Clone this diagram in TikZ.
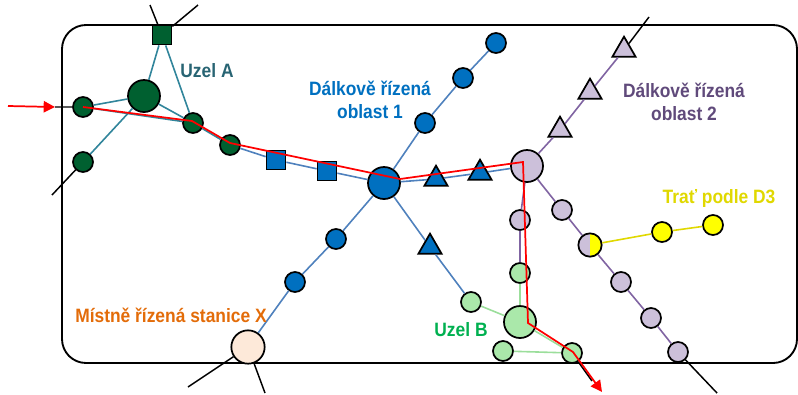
\documentclass[tikz,border=0pt]{standalone}
\usepackage{fontspec}
\setmainfont{Liberation Sans}[FakeStretch=0.9]
\usepackage{tikz}
\usetikzlibrary{shapes,positioning,arrows.meta}
\definecolor{greenA}{RGB}{0,96,48}
\definecolor{tealA}{RGB}{49,133,155}
\definecolor{labelA}{RGB}{40,100,115}
\definecolor{blue1}{RGB}{0,112,192}
\definecolor{blueline}{RGB}{79,129,189}
\definecolor{lilac2}{RGB}{204,192,218}
\definecolor{purple2}{RGB}{128,100,162}
\definecolor{purplelbl}{RGB}{96,74,123}
\definecolor{greenB}{RGB}{170,232,170}
\definecolor{greenBline}{RGB}{155,222,155}
\definecolor{greenlbl}{RGB}{0,176,80}
\definecolor{peachX}{RGB}{253,233,217}
\definecolor{orangeX}{RGB}{227,108,9}
\definecolor{yellowD}{RGB}{255,255,0}
\definecolor{yellowline}{RGB}{224,216,0}
\tikzset{stn/.style={circle,draw,minimum size=15pt,inner sep=0pt,line width=1.3pt}}
\tikzset{bigstn/.style={stn,minimum size=24pt}}
\tikzset{sqstn/.style={rectangle,draw,minimum size=14.25pt,inner sep=0pt,line width=1.3pt}}
\tikzset{tristn/.style={regular polygon,regular polygon sides=3,draw,minimum size=20pt,inner sep=0pt,line width=1.3pt}}
\tikzset{lbl/.style={font=\fontsize{14.5}{17.5}\selectfont\bfseries,align=center,inner sep=0pt}}

\begin{document}
\begin{tikzpicture}[x=0.75pt,y=-0.75pt]
        \useasboundingbox (0,0) rectangle (798,394);
        \draw[line width=1.4pt,rounded corners=18pt] (62,25) rectangle (797,363);

        \node[sqstn,fill=greenA] (a_sq) at (162,35) {};
        \node[bigstn,fill=greenA] (a_big) at (144,96) {};
        \node[stn,fill=greenA] (a_in) at (83,107) {};
        \node[stn,fill=greenA] (a_low) at (83,162) {};
        \node[stn,fill=greenA] (a_r1) at (193,123) {};
        \node[stn,fill=greenA] (a_r2) at (230,145) {};

        \node[sqstn,fill=blue1] (o1_sq1) at (276,160) {};
        \node[sqstn,fill=blue1] (o1_sq2) at (327,171) {};
        \node[bigstn,fill=blue1] (hub) at (384,183) {};
        \node[tristn,fill=blue1] (o1_t1) at (436,179) {};
        \node[tristn,fill=blue1] (o1_t2) at (480,173) {};
        \node[tristn,fill=blue1] (o1_t3) at (430,247) {};
        \node[stn,fill=blue1] (o1_u1) at (425,123) {};
        \node[stn,fill=blue1] (o1_u2) at (463,78) {};
        \node[stn,fill=blue1] (o1_u3) at (496,43) {};
        \node[stn,fill=blue1] (o1_d1) at (336,239) {};
        \node[stn,fill=blue1] (o1_d2) at (295,282) {};
        \node[bigstn,fill=peachX,minimum size=25pt] (st_x) at (248,347) {};

        \node[bigstn,fill=lilac2] (o2_hub) at (527,166) {};
        \node[tristn,fill=lilac2] (o2_t1) at (560,130) {};
        \node[tristn,fill=lilac2] (o2_t2) at (590,92) {};
        \node[tristn,fill=lilac2] (o2_t3) at (624,50) {};
        \node[stn,fill=lilac2] (o2_v1) at (520,220) {};
        \node[stn,fill=lilac2] (o2_d1) at (562,210) {};
        \node[stn,minimum size=17.5pt,path picture={
                \fill[lilac2] (path picture bounding box.south west) rectangle (path picture bounding box.north);
                \fill[yellowD] (path picture bounding box.south) rectangle (path picture bounding box.north east);}] (d3_j) at (590,245) {};
        \node[stn,fill=lilac2] (o2_d2) at (621,282) {};
        \node[stn,fill=lilac2] (o2_d3) at (651,318) {};
        \node[stn,fill=lilac2] (o2_d4) at (678,352) {};
        \node[stn,fill=yellowD] (d3_1) at (662,232) {};
        \node[stn,fill=yellowD] (d3_2) at (713,225) {};

        \node[stn,fill=greenB] (b_t) at (520,273) {};
        \node[bigstn,fill=greenB] (b_big) at (520,322) {};
        \node[stn,fill=greenB] (b_l) at (471,302) {};
        \node[stn,fill=greenB] (b_bl) at (503,351) {};
        \node[stn,fill=greenB] (b_r) at (572,353) {};

        \draw[tealA,line width=1.2pt] (a_in) -- (a_big) (a_low) -- (a_big) (a_big) -- (a_r1) (a_sq) -- (a_big) (a_sq) -- (a_r1) (a_in) -- (a_r1) -- (a_r2);
        \draw[blueline,line width=1.2pt] (a_r2) -- (o1_sq1) -- (o1_sq2) -- (hub) -- (o1_t1) -- (o1_t2) -- (o2_hub);
        \draw[blueline,line width=1.2pt] (hub) -- (o1_u1) -- (o1_u2) -- (o1_u3);
        \draw[blueline,line width=1.2pt] (hub) -- (o1_d1) -- (o1_d2) -- (st_x);
        \draw[blueline,line width=1.2pt] (hub) -- (o1_t3) -- (b_l);
        \draw[purple2,line width=1.2pt] (o2_hub) -- (o2_t1) -- (o2_t2) -- (o2_t3);
        \draw[purple2,line width=1.2pt] (o2_hub) -- (o2_v1) -- (b_t);
        \draw[purple2,line width=1.2pt] (o2_hub) -- (o2_d1) -- (d3_j) -- (o2_d2) -- (o2_d3) -- (o2_d4);
        \draw[greenBline,line width=1.2pt] (b_t) -- (b_big) -- (b_r) -- (b_bl) (b_big) -- (b_l);
        \draw[yellowline,line width=1.2pt] (d3_j) -- (d3_1) -- (d3_2);

        \coordinate (a_ext1) at (150,5);
        \coordinate (a_ext2) at (198,5);
        \coordinate (a_ext3) at (52,195);
        \coordinate (x_ext1) at (188,387);
        \coordinate (x_ext2) at (265,393);
        \coordinate (o2_ext1) at (649,17);
        \coordinate (o2_ext2) at (717,393);
        \coordinate (b_ext) at (592,381);
        \coordinate (in_src) at (8,106);
        \coordinate (in_port) at (55,107);
        \draw[line width=1.1pt] (a_sq) -- (a_ext1) (a_sq) -- (a_ext2) (a_low) -- (a_ext3) (st_x) -- (x_ext1) (st_x) -- (x_ext2) (o2_t3) -- (o2_ext1) (o2_d4) -- (o2_ext2) (b_r) -- (b_ext) (in_port) -- (a_in);

        \coordinate (rt1) at (192,121);
        \coordinate (rt2) at (230,143);
        \coordinate (rt3) at (400,179);
        \coordinate (rt4) at (523,162);
        \coordinate (rt5) at (528,323);
        \coordinate (rt6) at (573,352);
        \coordinate (rt_end) at (602,392);
        \draw[red,line width=1.3pt,-{Triangle[length=8.5pt,width=8.5pt]}] (in_src) -- (in_port);
        \draw[red,line width=1.3pt,-{Triangle[length=8.5pt,width=8.5pt]}] (a_in.center) -- (rt1) -- (rt2) -- (rt3) -- (rt4) -- (rt5) -- (rt6) -- (rt_end);

        \node[lbl,text=labelA,anchor=base] (lbl_a) at (207,77) {Uzel A};
        \node[lbl,text=blue1] (lbl_o1) at (370,100) {Dálkově řízená\\oblast 1};
        \node[lbl,text=purplelbl] (lbl_o2) at (684,102) {Dálkově řízená\\oblast 2};
        \node[lbl,text=yellowline,anchor=base] (lbl_d3) at (719,203) {Trať podle D3};
        \node[lbl,text=orangeX,anchor=base] (lbl_x) at (171,322) {Místně řízená stanice X};
        \node[lbl,text=greenlbl,anchor=base] (lbl_b) at (461,336) {Uzel B};
    \end{tikzpicture}
\end{document}
